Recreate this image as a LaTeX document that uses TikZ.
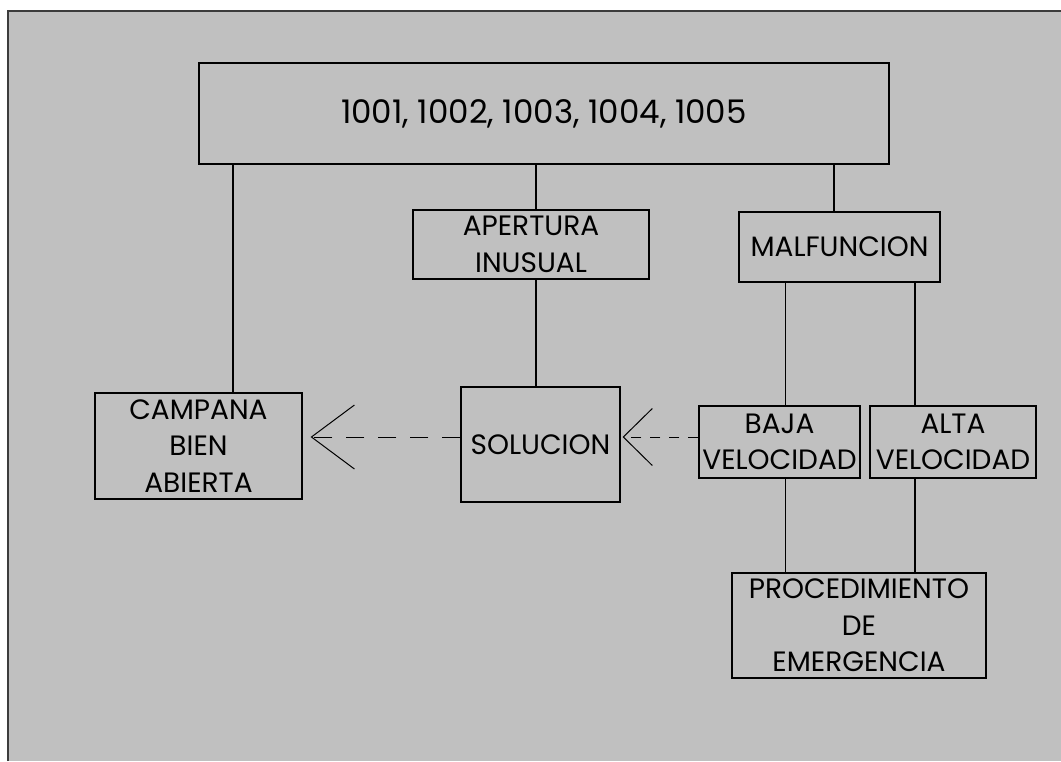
\documentclass[tikz,border=0pt]{standalone}
\usepackage{fontspec}
\setmainfont{Poppins}
\usetikzlibrary{arrows.meta}
\definecolor{bg}{RGB}{192,192,192}
\definecolor{framec}{RGB}{60,60,60}
\tikzset{
  box/.style={draw=black, line width=1.2pt, rectangle, inner sep=0pt, align=center,
    font=\fontsize{28}{36.5}\selectfont},
  link/.style={draw=black, line width=1.2pt},
  dashlinkA/.style={draw=black, line width=1pt, dash pattern=on 18pt off 14pt,
    -{Straight Barb[length=43pt,width=64pt,line width=1pt]}},
  dashlinkB/.style={draw=black, line width=1pt, dash pattern=on 10pt off 9pt,
    -{Straight Barb[length=29pt,width=57pt,line width=1pt]}}
}
\begin{document}
\begin{tikzpicture}[x=1pt,y=-1pt]
\useasboundingbox (0,0) rectangle (1061,761);
\fill[bg] (8,11) rectangle (1061,761);
\draw[framec, line width=2pt] (8,761) -- (8,11) -- (1061,11);

\node[box, minimum width=690pt, minimum height=101pt, font=\fontsize{32.5}{36}\selectfont] (top) at (544,113.5) {1001, 1002, 1003, 1004, 1005};
\node[box, minimum width=236pt, minimum height=69pt] (apert) at (531,244.5) {APERTURA\\INUSUAL};
\node[box, minimum width=201pt, minimum height=70pt] (malf) at (839.5,247) {MALFUNCION};
\node[box, minimum width=207pt, minimum height=106pt] (camp) at (198.5,446) {CAMPANA\\BIEN\\ABIERTA};
\node[box, minimum width=159pt, minimum height=115pt] (sol) at (540.5,444.5) {SOLUCION};
\node[box, minimum width=161pt, minimum height=72pt] (baja) at (779.5,442) {BAJA\\VELOCIDAD};
\node[box, minimum width=166pt, minimum height=72pt] (alta) at (953,442) {ALTA\\VELOCIDAD};
\node[box, minimum width=254pt, minimum height=105pt] (proc) at (859,625.5) {PROCEDIMIENTO\\DE\\EMERGENCIA};

\coordinate (xa) at (233,0);
\coordinate (xb) at (536,0);
\coordinate (xc) at (834,0);
\coordinate (xd) at (785.5,0);
\coordinate (xe) at (915,0);
\coordinate (ya) at (0,437);

\draw[link] (top.south -| xa) -- (camp.north -| xa);
\draw[link] (top.south -| xb) -- (apert.north -| xb);
\draw[link] (top.south -| xc) -- (malf.north -| xc);
\draw[link] (apert.south -| xb) -- (sol.north -| xb);
\draw[link] (malf.south -| xd) -- (baja.north -| xd);
\draw[link] (malf.south -| xe) -- (alta.north -| xe);
\draw[link] (baja.south -| xd) -- (proc.north -| xd);
\draw[link] (alta.south -| xe) -- (proc.north -| xe);

\draw[dashlinkA, shorten >=8pt] (sol.west |- ya) -- (camp.east |- ya);
\draw[dashlinkB, shorten >=2pt] (baja.west |- ya) -- (sol.east |- ya);
\end{tikzpicture}
\end{document}
